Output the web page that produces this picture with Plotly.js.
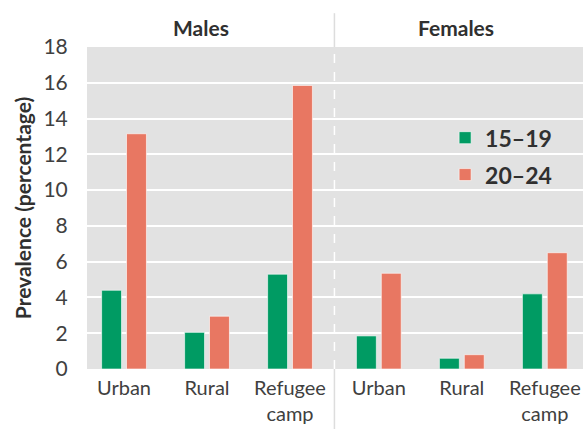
<!DOCTYPE html>
<html>
<head>
<meta charset="utf-8">
<script src="https://cdn.plot.ly/plotly-3.0.1.min.js"></script>
<style>html,body{margin:0;padding:0;background:#fff;}#chart{width:583px;height:429px;}</style>
</head>
<body>
<div id="chart"></div>
<script>
const groups = ["Males", "Females"];
const categories = ["Urban", "Rural", "Refugee<br>camp"];
const seriesNames = ["15–19", "20–24"];
const males_15_19 = [4.4, 2.05, 5.3];
const males_20_24 = [13.15, 2.95, 15.85];
const females_15_19 = [1.85, 0.6, 4.2];
const females_20_24 = [5.35, 0.8, 6.5];
const yTicks = [0, 2, 4, 6, 8, 10, 12, 14, 16, 18];
const colors = ["#009B63", "#E87762"];

// layout positions (not data)
const groupGap = 1.07;
const xm = categories.map((c, i) => i);
const xf = categories.map((c, i) => 2 + groupGap + i);
const xAll = xm.concat(xf);
const tickText = categories.concat(categories);

const FONT = "Lato, 'Open Sans', sans-serif";

const traces = [
  {type: "bar", name: seriesNames[0], legendgroup: "a", x: xAll, y: males_15_19.concat(females_15_19),
   marker: {color: colors[0], line: {color: "rgba(255,255,255,0.6)", width: 1}}},
  {type: "bar", name: seriesNames[1], legendgroup: "b", x: xAll, y: males_20_24.concat(females_20_24),
   marker: {color: colors[1], line: {color: "rgba(255,255,255,0.6)", width: 1}}}
];

const xRange = [-0.446, 5.53];
const layout = {
  width: 583, height: 429,
  margin: {l: 87, r: 0, t: 47, b: 60},
  paper_bgcolor: "#fff",
  plot_bgcolor: "#E2E2E2",
  barmode: "group",
  bargap: 0.4,
  bargroupgap: 0.2,
  font: {family: FONT, color: "#404040"},
  xaxis: {
    range: xRange, tickvals: xAll, ticktext: tickText,
    showgrid: false, zeroline: false, showline: false,
    ticks: "outside", ticklen: 1, tickcolor: "rgba(0,0,0,0)",
    tickfont: {size: 20, color: "#404040", family: FONT}
  },
  yaxis: {
    range: [0, 18], tickvals: yTicks,
    showgrid: true, gridcolor: "#FFFFFF", gridwidth: 2,
    zeroline: false, showline: false,
    ticks: "outside", ticklen: 14, tickcolor: "rgba(0,0,0,0)",
    tickfont: {size: 21, color: "#404040", family: FONT},
    title: {text: "Prevalence (percentage)", font: {size: 21, color: "#303030", family: FONT, weight: "bold"}, standoff: 6}
  },
  legend: {
    x: 0.722, y: 0.785, xanchor: "left", yanchor: "top",
    bgcolor: "rgba(0,0,0,0)",
    font: {size: 23, color: "#303030", family: FONT, weight: "bold"},
    itemwidth: 30, tracegroupgap: 4
  },
  shapes: [
    {type: "line", xref: "x", yref: "paper", x0: 2 + groupGap / 2, x1: 2 + groupGap / 2, y0: 1, y1: 1.105,
     line: {color: "#DDDDDD", width: 1.5}},
    {type: "line", xref: "x", yref: "paper", x0: 2 + groupGap / 2, x1: 2 + groupGap / 2, y0: 0, y1: -0.19,
     line: {color: "#DDDDDD", width: 1.5}},
    {type: "line", xref: "x", yref: "paper", x0: 2 + groupGap / 2, x1: 2 + groupGap / 2, y0: 0, y1: 1,
     line: {color: "#FFFFFF", width: 1.5, dash: "dash"}}
  ],
  annotations: [
    {text: groups[0], xref: "x", yref: "paper", x: 0.93, y: 1.06, xanchor: "center", yanchor: "middle",
     showarrow: false, font: {size: 21, color: "#303030", family: FONT, weight: "bold"}},
    {text: groups[1], xref: "x", yref: "paper", x: 4.0, y: 1.06, xanchor: "center", yanchor: "middle",
     showarrow: false, font: {size: 21, color: "#303030", family: FONT, weight: "bold"}}
  ]
};

Plotly.newPlot("chart", traces, layout, {displayModeBar: false, staticPlot: true});
</script>
</body>
</html>
